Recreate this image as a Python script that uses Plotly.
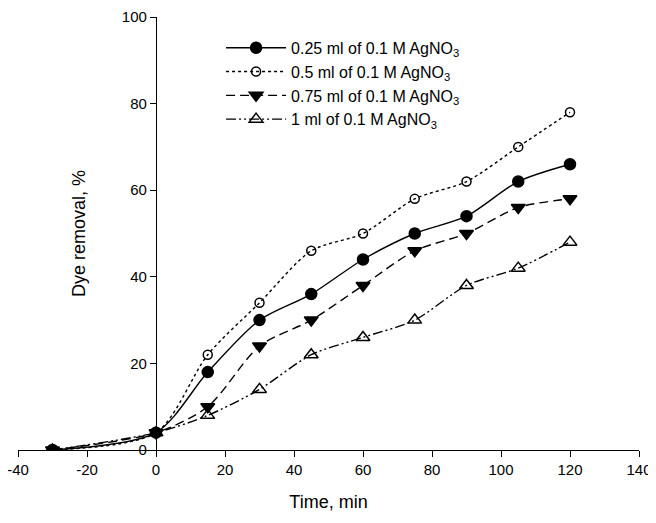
import plotly.graph_objects as go

time_min = [-30, 0, 15, 30, 45, 60, 75, 90, 105, 120]
s025 = [0, 4, 18, 30, 36, 44, 50, 54, 62, 66]
s050 = [0, 4, 22, 34, 46, 50, 58, 62, 70, 78]
s075 = [0, 4, 10, 24, 30, 38, 46, 50, 56, 58]
s100 = [0, 4, 8, 14, 22, 26, 30, 38, 42, 48]
names = ["0.25 ml of 0.1 M AgNO<sub>3</sub>", "0.5 ml of 0.1 M AgNO<sub>3</sub>",
         "0.75 ml of 0.1 M AgNO<sub>3</sub>", "1 ml of 0.1 M AgNO<sub>3</sub>"]
xticks = [-40, -20, 0, 20, 40, 60, 80, 100, 120, 140]
xticklabels = ["-40", "-20", "0", "20", "40", "60", "80", "100", "120", "140"]
yticks = [0, 20, 40, 60, 80, 100]

styles = [
    dict(dash="solid", symbol="circle", size=11, mc="black"),
    dict(dash="dot", symbol="circle-open", size=9, mc="black"),
    dict(dash="9px,5px", symbol="triangle-down", size=12, mc="black"),
    dict(dash="10px,3px,2px,3px,2px,3px", symbol="triangle-up-open", size=12, mc="black"),
]
series = [s025, s050, s075, s100]

fig = go.Figure()
for name, ys, st in zip(names, series, styles):
    fig.add_trace(go.Scatter(
        x=time_min, y=ys, name=name, mode="lines+markers",
        line=dict(color="black", width=1.4, dash=st["dash"], shape="spline", smoothing=0.8),
        marker=dict(symbol=st["symbol"], size=st["size"], color=st["mc"],
                    line=dict(color="black", width=1.5)),
    ))

font = dict(family="Liberation Sans, Arial, sans-serif", size=15, color="black")
fig.update_layout(
    width=648, height=515,
    margin=dict(l=10, r=17, t=9, b=73, autoexpand=False),
    paper_bgcolor="white", plot_bgcolor="white",
    font=font,
    showlegend=True,
    legend=dict(x=0.327, y=0.968, xanchor="left", yanchor="top", bgcolor="rgba(0,0,0,0)",
                font=dict(family="Liberation Sans, Arial, sans-serif", size=16, color="black"),
                tracegroupgap=0, itemwidth=60),
    xaxis=dict(range=[-40, 140], tickvals=xticks, ticktext=xticklabels,
               showgrid=False, zeroline=False,
               showline=True, linecolor="black", linewidth=1.3,
               ticks="outside", ticklen=6, tickcolor="black", tickwidth=1.3,
               ticklabeloverflow="allow", automargin=False,
               title=dict(text="Time, min", standoff=18), domain=[0, 1]),
    yaxis=dict(range=[0, 100], tickvals=yticks, showgrid=False, zeroline=False,
               showline=True, linecolor="black", linewidth=1.3,
               ticks="outside", ticklen=6, tickcolor="black", tickwidth=1.3,
               ticklabeloverflow="allow", automargin=False,
               anchor="free", position=40/180,
               title=dict(text="Dye removal, %", standoff=30)),
)
fig.write_html("out.html")
